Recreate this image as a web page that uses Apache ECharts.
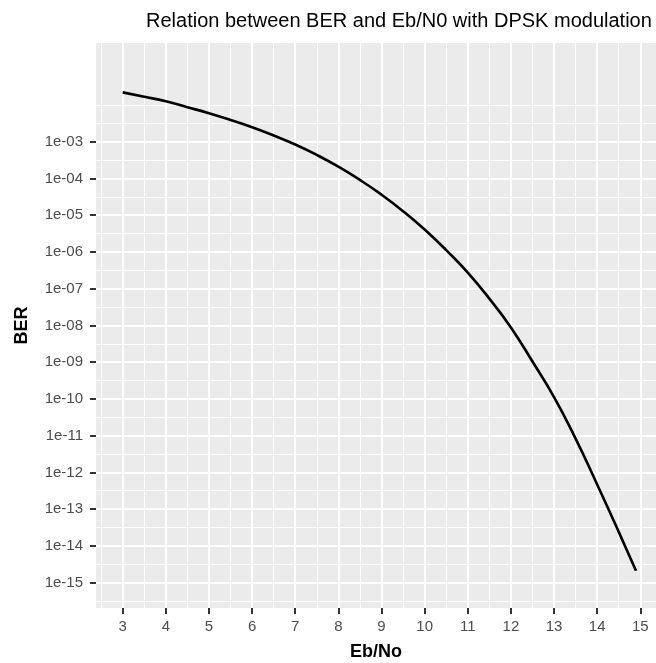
<!DOCTYPE html>
<html>
<head>
<meta charset="utf-8">
<title>BER vs Eb/N0 (DPSK)</title>
<script src="https://cdn.jsdelivr.net/npm/echarts@6/dist/echarts.min.js"></script>
<style>
  html, body { margin: 0; padding: 0; background: #fff; }
  #chart { width: 656px; height: 663px; }
</style>
</head>
<body>
<div id="chart"></div>
<script>
// Eb/N0 in dB and BER
var ebno = [3, 3.5, 4, 4.5, 5, 5.5, 6, 6.5, 7, 7.5, 8, 8.5, 9, 9.5, 10,
            10.5, 11, 11.5, 12, 12.5, 13, 13.5, 14, 14.5, 14.9];
var ber = [2.21e-2, 1.68e-2, 1.26e-2, 8.71e-3, 5.96e-3, 3.89e-3, 2.48e-3, 1.48e-3,
           8.41e-4, 4.37e-4, 2.09e-4, 9.12e-5, 3.63e-5, 1.29e-5, 4.07e-6,
           1.12e-6, 2.75e-7, 5.37e-8, 8.81e-9, 1.04e-9, 1.12e-10, 8.32e-12,
           4.68e-13, 2.40e-14, 2.09e-15];

// ticks
var xTicks = [3, 4, 5, 6, 7, 8, 9, 10, 11, 12, 13, 14, 15];
var xMinor = [2.5, 3.5, 4.5, 5.5, 6.5, 7.5, 8.5, 9.5, 10.5, 11.5, 12.5, 13.5, 14.5];
var yTicks = [1e-3, 1e-4, 1e-5, 1e-6, 1e-7, 1e-8, 1e-9, 1e-10, 1e-11, 1e-12, 1e-13, 1e-14, 1e-15];
var yTickLabels = ['1e-03', '1e-04', '1e-05', '1e-06', '1e-07', '1e-08', '1e-09',
                   '1e-10', '1e-11', '1e-12', '1e-13', '1e-14', '1e-15'];
var yMinor = [1e-2, 10 ** -2.5, 10 ** -3.5, 10 ** -4.5, 10 ** -5.5, 10 ** -6.5, 10 ** -7.5,
              10 ** -8.5, 10 ** -9.5, 10 ** -10.5, 10 ** -11.5, 10 ** -12.5,
              10 ** -13.5, 10 ** -14.5, 10 ** -15.5];

// panel limits (ggplot expansion)
var xMin = 2.381, xMax = 15.364;
var yMinExp = -15.692, yMaxExp = -0.312;

var font = 'Liberation Sans, Arial, Helvetica, sans-serif';
var lg = function (v) { return Math.log10(v); };

var chart = echarts.init(document.getElementById('chart'));
chart.setOption({
  backgroundColor: '#ffffff',
  animation: false,
  title: {
    text: 'Relation between BER and Eb/N0 with DPSK modulation',
    left: 141,
    top: 6,
    textStyle: { fontFamily: font, fontSize: 20, fontWeight: 'normal', color: '#000000' }
  },
  grid: {
    left: 96, top: 43, right: 0, bottom: 55,
    outerBoundsMode: 'none',
    show: true, backgroundColor: '#EBEBEB', borderWidth: 0
  },
  xAxis: [{
    type: 'value',
    min: xMin, max: xMax,
    name: 'Eb/No',
    nameLocation: 'middle',
    nameGap: 35,
    nameTextStyle: { fontFamily: font, fontSize: 18, fontWeight: 'bold', color: '#000000' },
    axisLine: { show: false },
    axisTick: { show: true, length: 6, customValues: xTicks, lineStyle: { color: '#333333', width: 2 } },
    axisLabel: { customValues: xTicks, margin: 11, fontFamily: font, fontSize: 15, color: '#4D4D4D' },
    splitLine: { show: true, lineStyle: { color: '#ffffff', width: 2 } }
  }, {
    type: 'value',
    position: 'top',
    min: xMin, max: xMax,
    axisLine: { show: false },
    axisTick: { show: false, customValues: xMinor },
    axisLabel: { show: false, customValues: xMinor },
    splitLine: { show: true, lineStyle: { color: '#ffffff', width: 1 } }
  }],
  yAxis: [{
    type: 'log',
    logBase: 10,
    position: 'right',
    min: Math.pow(10, yMinExp), max: Math.pow(10, yMaxExp),
    axisLine: { show: false },
    axisTick: { show: false },
    axisLabel: { show: false },
    splitLine: { show: false }
  }, {
    type: 'value',
    position: 'left',
    min: yMinExp, max: yMaxExp,
    name: 'BER',
    nameLocation: 'middle',
    nameGap: 65,
    nameTextStyle: { fontFamily: font, fontSize: 18, fontWeight: 'bold', color: '#000000' },
    axisLine: { show: false },
    axisTick: { show: true, length: 6, customValues: yTicks.map(lg), lineStyle: { color: '#333333', width: 2 } },
    axisLabel: {
      customValues: yTicks.map(lg),
      margin: 13, fontFamily: font, fontSize: 15, color: '#4D4D4D',
      formatter: function (v) {
        var i = yTicks.findIndex(function (t) { return Math.abs(lg(t) - v) < 1e-6; });
        return i >= 0 ? yTickLabels[i] : '';
      }
    },
    splitLine: { show: true, lineStyle: { color: '#ffffff', width: 2 } }
  }, {
    type: 'value',
    position: 'right',
    min: yMinExp, max: yMaxExp,
    axisLine: { show: false },
    axisTick: { show: false, customValues: yMinor.map(lg) },
    axisLabel: { show: false, customValues: yMinor.map(lg) },
    splitLine: { show: true, lineStyle: { color: '#ffffff', width: 1 } }
  }],
  series: [{
    type: 'line',
    xAxisIndex: 0,
    yAxisIndex: 0,
    data: ebno.map(function (x, i) { return [x, ber[i]]; }),
    smooth: 0.5,
    symbol: 'none',
    lineStyle: { color: '#000000', width: 2.6 },
    z: 5
  }]
});
</script>
</body>
</html>
